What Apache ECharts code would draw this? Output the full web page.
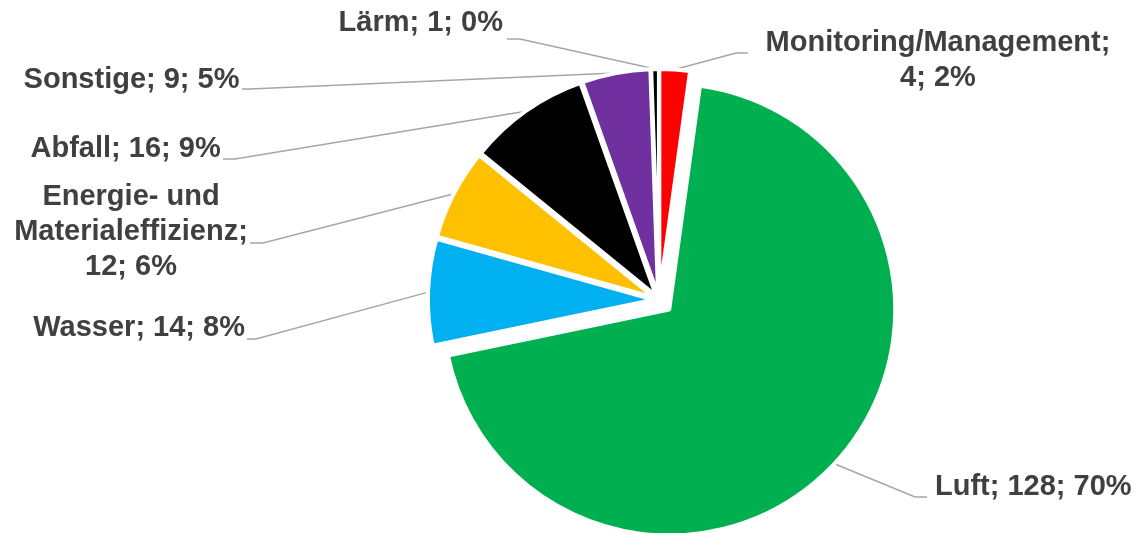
<!DOCTYPE html>
<html><head><meta charset="utf-8">
<script src="https://cdn.jsdelivr.net/npm/echarts@6/dist/echarts.min.js"></script>
<style>html,body{margin:0;padding:0;background:#fff}#c{width:1136px;height:533px}</style>
</head><body><div id="c"></div>
<script>
// ---- data ----
const categories = ['Monitoring/Management', 'Luft', 'Wasser', 'Energie- und\nMaterialeffizienz', 'Abfall', 'Sonstige', 'Lärm'];
const values = [4, 128, 14, 12, 16, 9, 1];
const percents = [2, 70, 8, 6, 9, 5, 0];

// ---- style / layout ----
const colors = ['#FF0000', '#00B050', '#00B0F0', '#FFC000', '#000000', '#7030A0', '#000000'];
const explode = [5, 14, 5, 5, 5, 5, 5];
const CX = 659, CY = 300, R = 226;
const labelLayouts = [
  {x: 938, y: 60.5, align: 'center', sep: '\n', bend: [736, 53], end: [748, 53]},
  {x: 935, y: 487, align: 'left', sep: ' ', bend: [915, 497], end: [927, 497]},
  {x: 245, y: 328, align: 'right', sep: ' ', bend: [256, 339], end: [247, 339]},
  {x: 131, y: 232, align: 'center', sep: '\n', bend: [263, 243], end: [250, 243]},
  {x: 220.7, y: 149, align: 'right', sep: ' ', bend: [235, 159], end: [223, 159]},
  {x: 239.5, y: 79.5, align: 'right', sep: ' ', bend: [250, 89], end: [242, 89]},
  {x: 503, y: 23, align: 'right', sep: ' ', bend: [520, 39], end: [507, 39]}
];

const total = values.reduce((a, b) => a + b, 0);
let cum = 0;
const series = categories.map((name, i) => {
  const mid = (cum + values[i] / 2) / total * 2 * Math.PI;
  cum += values[i];
  const cx = CX + explode[i] * Math.sin(mid);
  const cy = CY - explode[i] * Math.cos(mid);
  const L = labelLayouts[i];
  const text = name + ';' + L.sep + values[i] + '; ' + percents[i] + '%';
  return {
    type: 'pie',
    center: [cx, cy],
    radius: [0, R],
    startAngle: 90,
    clockwise: true,
    silent: true,
    animation: false,
    avoidLabelOverlap: false,
    label: {
      show: true,
      formatter: (p) => p.dataIndex === i ? text : '',
      fontFamily: '"Liberation Sans", Arial, sans-serif',
      fontWeight: 'bold',
      fontSize: 29,
      lineHeight: 35,
      color: '#404040'
    },
    labelLine: {show: true, smooth: false, lineStyle: {color: '#A6A6A6', width: 1.5}},
    labelLayout: (p) => {
      if (p.dataIndex !== i) return {};
      const start = (p.labelLinePoints && p.labelLinePoints[0]) ? p.labelLinePoints[0]
        : [cx + R * Math.sin(mid), cy - R * Math.cos(mid)];
      return {x: L.x, y: L.y, align: L.align, verticalAlign: 'middle',
              labelLinePoints: [start, L.bend, L.end]};
    },
    data: categories.map((n, j) => j === i
      ? {name: n, value: values[j], itemStyle: {color: colors[j], borderColor: '#ffffff', borderWidth: 4}}
      : {name: n, value: values[j], itemStyle: {color: 'rgba(0,0,0,0)', borderWidth: 0},
         label: {show: false}, labelLine: {show: false}})
  };
});

const chart = echarts.init(document.getElementById('c'), null, {renderer: 'canvas'});
chart.setOption({animation: false, backgroundColor: '#ffffff', series: series});
</script>
</body></html>
